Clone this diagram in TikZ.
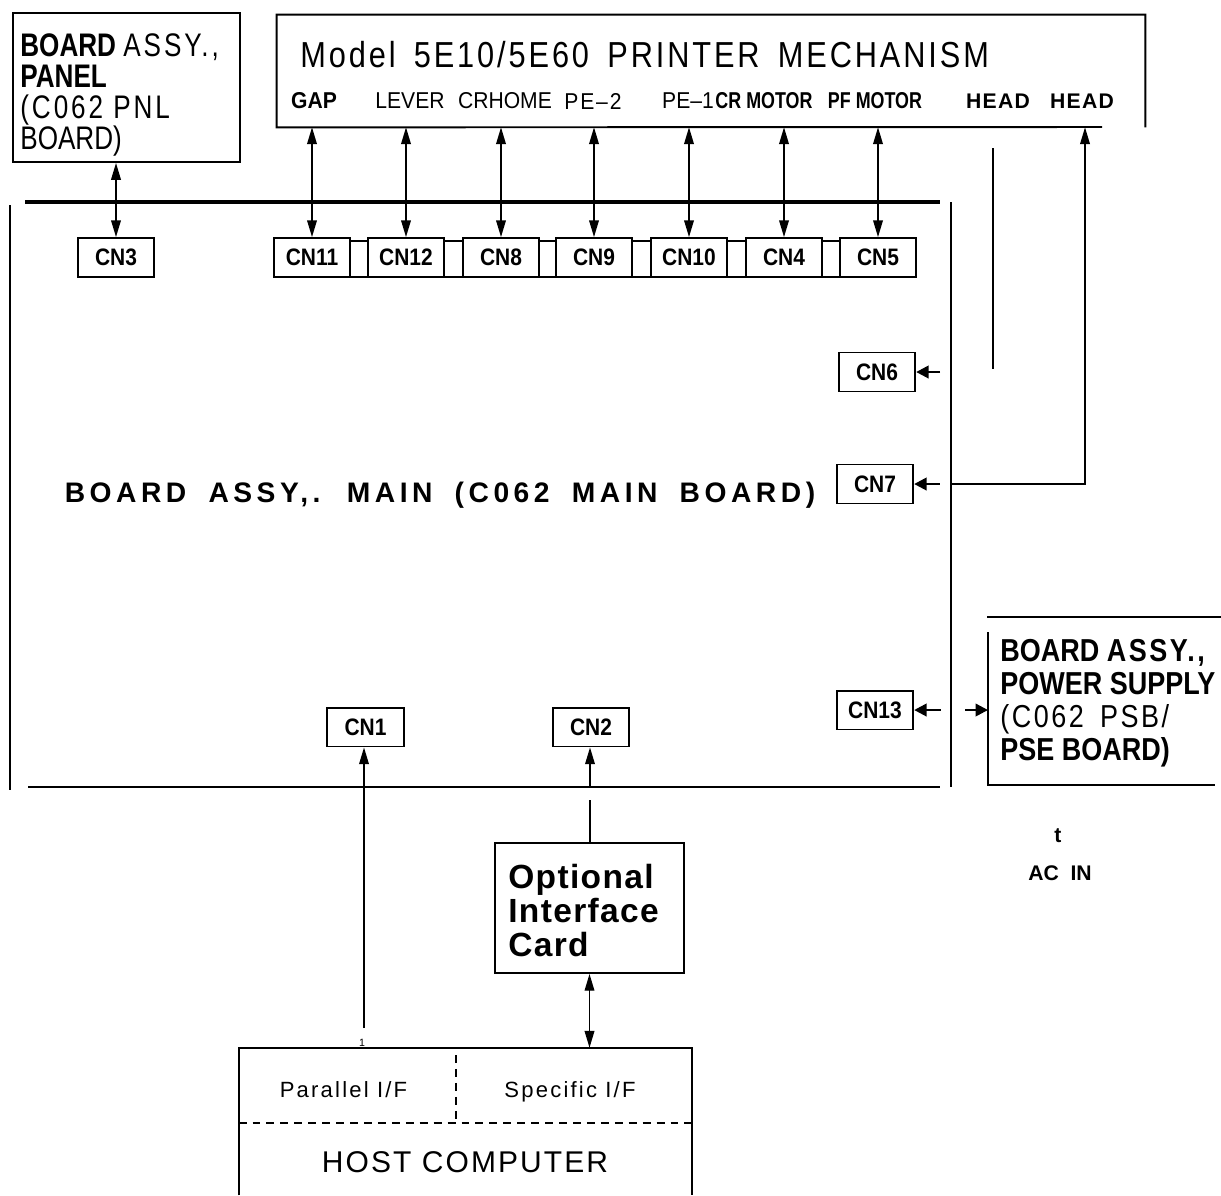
\documentclass[tikz,border=0pt]{standalone}
\usepackage{fontspec}
\usetikzlibrary{arrows.meta}
\setmainfont{Liberation Sans}
\newfontfamily\condfont[FakeStretch=0.85]{Liberation Sans}
\newfontfamily\panelfont[FakeStretch=0.8]{Liberation Sans}
\newfontfamily\panelspaced[FakeStretch=0.8,LetterSpace=9]{Liberation Sans}
\newfontfamily\condspaced[FakeStretch=0.85,LetterSpace=8]{Liberation Sans}
\newfontfamily\titlefont[FakeStretch=0.85,LetterSpace=8,WordSpace=1.6]{Liberation Sans}
\newfontfamily\labelfont[FakeStretch=0.92]{Liberation Sans}
\newfontfamily\pefont[FakeStretch=0.92,LetterSpace=8]{Liberation Sans}
\newfontfamily\motorfont[FakeStretch=0.78]{Liberation Sans}
\newfontfamily\cnfont[FakeStretch=0.88]{Liberation Sans}
\newfontfamily\boardfont[LetterSpace=16,WordSpace=1.8]{Liberation Sans}
\newfontfamily\headfont[LetterSpace=6]{Liberation Sans}
\newfontfamily\cardfont[LetterSpace=4]{Liberation Sans}
\newfontfamily\iffont[LetterSpace=10]{Liberation Sans}
\newfontfamily\hostfont[LetterSpace=7]{Liberation Sans}

\begin{document}
\begin{tikzpicture}[
    x=0.567pt, y=-0.567pt,
    boxframe/.style={rectangle, draw, line width=1.1pt, inner sep=0pt},
    cnbox/.style={boxframe, fill=white, minimum width=43.3pt, minimum height=22.1pt, font=\cnfont\fontsize{13.5}{15}\selectfont\bfseries},
    sublabel/.style={inner sep=0pt, font=\labelfont\fontsize{13}{15}\selectfont},
    biarrow/.style={{Triangle[length=9.5pt,width=5.5pt]}-{Triangle[length=9.5pt,width=5.5pt]}, line width=0.8pt},
    onearrow/.style={-{Triangle[length=9.5pt,width=5.5pt]}, line width=0.8pt},
    stubarrow/.style={-{Triangle[length=7pt,width=7pt]}, line width=1.4pt},
    wire/.style={line width=0.9pt},
    boardside/.style={line width=1.3pt},
    bus/.style={line width=1.8pt},
    dashline/.style={line width=1pt, dash pattern=on 4.5pt off 3.4pt}
]
\useasboundingbox (0,0) rectangle (1221,1195);

% ===== PANEL BOARD (top left) =====
\node[boxframe, minimum width=128.7pt, minimum height=84.5pt] (panel) at (126.5,87.5) {};
\node[anchor=north west, inner sep=0pt, align=left, font=\panelfont\fontsize{18.5}{17.6}\selectfont] (panel_txt) at (20,33)
  {\textbf{BOARD} {\panelspaced ASSY.,}\\ \textbf{PANEL}\\ {\panelspaced (C062 PNL}\\ {\panelfont BOARD)}};

% ===== PRINTER MECHANISM (top) =====
\node[minimum width=492.2pt, minimum height=63.5pt, inner sep=0pt] (printer) at (711,71) {};
\draw[line width=1.1pt] (1102,127) -- (printer.south west) -- (printer.north west) -- (printer.north east) -- (printer.south east);
\node[anchor=west, inner sep=0pt, font=\titlefont\fontsize{20.5}{24}\selectfont] (printer_title) at (300,55) {Model 5E10/5E60 PRINTER MECHANISM};

% Sub-unit labels
\node[sublabel, font=\labelfont\fontsize{13}{15}\selectfont\bfseries] (lbl_gap) at (314,101) {GAP};
\node[sublabel] (lbl_lever) at (410,101) {LEVER};
\node[sublabel] (lbl_crhome) at (505,101) {CRHOME};
\node[sublabel, font=\pefont\fontsize{13}{15}\selectfont] (lbl_pe2) at (593,101) {PE–2};
\node[sublabel] (lbl_pe1) at (688,101) {PE–1};
\node[sublabel, font=\motorfont\fontsize{13}{15}\selectfont\bfseries] (lbl_crmotor) at (764,101) {CR MOTOR};
\node[sublabel, font=\motorfont\fontsize{13}{15}\selectfont\bfseries] (lbl_pfmotor) at (875,101) {PF MOTOR};
\node[sublabel, font=\headfont\fontsize{12}{14}\selectfont\bfseries] (lbl_head_a) at (998,101) {HEAD};
\node[sublabel, font=\headfont\fontsize{12}{14}\selectfont\bfseries] (lbl_head_b) at (1082,101) {HEAD};

% ===== MAIN BOARD =====
\draw[bus] (25,202) -- (940,202);
\draw[boardside] (10,205) -- (10,790);
\draw[boardside] (951,202) -- (951,787);
\draw[boardside] (28,787) -- (940,787);

% Connector strip
\draw[line width=1.1pt] (275,241) rectangle (916,277);

\node[cnbox] (cn_3) at (116,257.5) {CN3};
\node[cnbox] (cn_11) at (312,257.5) {CN11};
\node[cnbox] (cn_12) at (406,257.5) {CN12};
\node[cnbox] (cn_8) at (501,257.5) {CN8};
\node[cnbox] (cn_9) at (594,257.5) {CN9};
\node[cnbox] (cn_10) at (689,257.5) {CN10};
\node[cnbox] (cn_4) at (784,257.5) {CN4};
\node[cnbox] (cn_5) at (878,257.5) {CN5};

\node[cnbox] (cn_6) at (877,372) {CN6};
\node[cnbox] (cn_7) at (875,484) {CN7};
\node[cnbox] (cn_13) at (875,710) {CN13};
\node[cnbox] (cn_1) at (365.5,727) {CN1};
\node[cnbox] (cn_2) at (591,727) {CN2};

\node[anchor=base, inner sep=0pt, font=\boardfont\fontsize{16}{19}\selectfont\bfseries] (main_lbl) at (440,502) {BOARD ASSY,. MAIN (C062 MAIN BOARD)};

% Panel and printer links
\draw[biarrow] (cn_3.north) -- (cn_3.north |- panel.south);
\draw[biarrow] (cn_11.north) -- (cn_11.north |- printer.south);
\draw[biarrow] (cn_12.north) -- (cn_12.north |- printer.south);
\draw[biarrow] (cn_8.north) -- (cn_8.north |- printer.south);
\draw[biarrow] (cn_9.north) -- (cn_9.north |- printer.south);
\draw[biarrow] (cn_10.north) -- (cn_10.north |- printer.south);
\draw[biarrow] (cn_4.north) -- (cn_4.north |- printer.south);
\draw[biarrow] (cn_5.north) -- (cn_5.north |- printer.south);

% Head cables
\coordinate (head_free_top) at (993,148);
\coordinate (head_free_end) at (993,369);
\draw[wire] (head_free_top) -- (head_free_end);
\coordinate (head_join) at (952,484);
\coordinate (head_bend) at (1085,484);
\draw[onearrow] (head_join) -- (head_bend) -- (head_bend |- printer.south);

\draw[stubarrow] ([xshift=13.6pt]cn_6.east) -- (cn_6.east);
\draw[stubarrow] ([xshift=14.4pt]cn_7.east) -- (cn_7.east);
\draw[stubarrow] ([xshift=15pt]cn_13.east) -- (cn_13.east);

% ===== POWER SUPPLY (right) =====
\draw[line width=1.1pt] (987,617) -- (1221,617);
\draw[line width=1.1pt] (988,632) -- (988,785) -- (1215,785);
\node[anchor=north west, inner sep=0pt, align=left, font=\condfont\fontsize{18}{18.7}\selectfont] (psb_txt) at (1000,639)
  {\textbf{BOARD {\condspaced ASSY.,}}\\ \textbf{POWER SUPPLY}\\ {\condspaced (C062 PSB/}\\ \textbf{PSE BOARD)}};
\coordinate (psb_in) at (965,710);
\coordinate (psb_edge) at (988,710);
\draw[stubarrow] (psb_in) -- (psb_edge);

\node[inner sep=0pt, anchor=base, font=\fontsize{12}{14}\selectfont\bfseries] (ac_tick) at (1058,842) {t};
\node[inner sep=0pt, anchor=base, font=\fontsize{12}{14}\selectfont\bfseries] (ac_in) at (1060,880) {AC\ \ IN};

% ===== OPTIONAL INTERFACE CARD =====
\node[boxframe, minimum width=107.2pt, minimum height=73.7pt] (card) at (589.5,908) {};
\node[anchor=north west, inner sep=0pt, align=left, font=\cardfont\bfseries\fontsize{19}{19.3}\selectfont] (card_txt) at (508,864)
  {Optional\\Interface\\Card};

% ===== HOST COMPUTER =====
\node[minimum width=256.9pt, minimum height=83.3pt, inner sep=0pt] (host) at (465.5,1121.5) {};
\draw[line width=1.1pt] (host.south west) -- (host.north west) -- (host.north east) -- (host.south east);
\draw[dashline] (host.west |- 0,1123) -- (host.east |- 0,1123);
\draw[dashline] (456,1055) -- (456,1123);
\node[anchor=base, inner sep=0pt, font=\iffont\fontsize{12.5}{14}\selectfont] (host_par) at (343.5,1097) {Parallel I/F};
\node[anchor=base, inner sep=0pt, font=\iffont\fontsize{12.5}{14}\selectfont] (host_spec) at (570,1097) {Specific I/F};
\node[anchor=base, inner sep=0pt, font=\hostfont\fontsize{17}{20}\selectfont] (host_lbl) at (465,1172) {HOST COMPUTER};

% Interface links
\coordinate (cn1_foot) at (364,1028);
\draw[onearrow] (cn1_foot) -- (cn1_foot |- cn_1.south);
\node[inner sep=0pt, font=\fontsize{6}{7}\selectfont] (pin_one) at (362,1043) {1};
\coordinate (cn2_foot) at (590,787);
\draw[onearrow] (cn2_foot) -- (cn2_foot |- cn_2.south);
\coordinate (card_lead) at (590,800);
\draw[wire] (card_lead) -- (card_lead |- card.north);
\draw[biarrow] (card.south) -- (card.south |- host.north);

\end{tikzpicture}
\end{document}
